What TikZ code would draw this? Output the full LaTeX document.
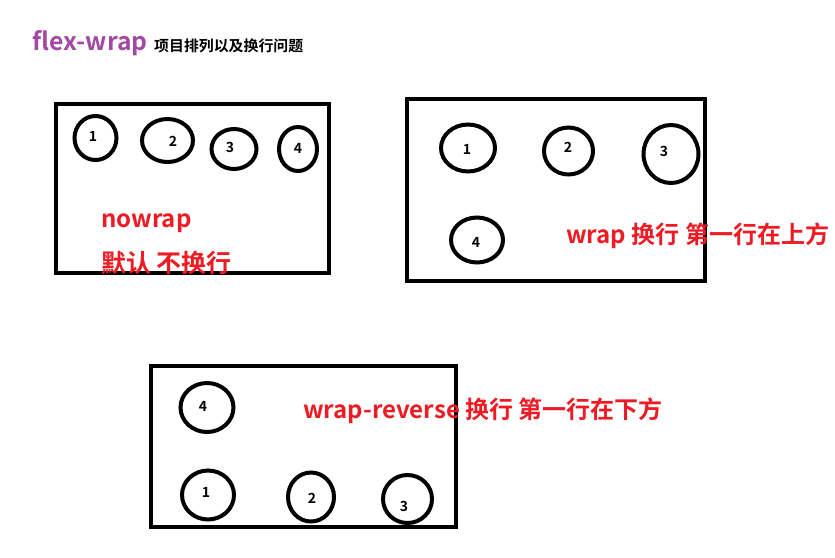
\documentclass[tikz,border=0pt]{standalone}
\usepackage{fontspec}
\usetikzlibrary{shapes.geometric}
\newfontfamily\cjk{Noto Sans CJK SC}[BoldFont={Noto Sans CJK SC Bold}]
\definecolor{pred}{RGB}{237,28,36}
\definecolor{ppurple}{RGB}{163,73,164}
\tikzset{
  frame/.style={draw=black,line width=4.5pt},
  item/.style={ellipse,draw=black,line width=4pt,inner sep=0pt},
  num/.style={font=\cjk\bfseries\fontsize{14}{14}\selectfont,text=black,inner sep=0pt},
  note/.style={font=\cjk\bfseries\fontsize{24}{24}\selectfont,text=pred,inner sep=0pt,anchor=west},
}
\begin{document}
\begin{tikzpicture}[x=1pt,y=-1pt]
\useasboundingbox[fill=white] (0,0) rectangle (835,557);
% title
\node[anchor=west,inner sep=0pt,font=\cjk\bfseries\fontsize{24.7}{24.7}\selectfont,text=ppurple] (title) at (32,43) {flex-wrap};
\node[anchor=west,inner sep=0pt,font=\cjk\bfseries\fontsize{14.9}{14.9}\selectfont] (subtitle) at (154,46) {项目排列以及换行问题};
% box 1: nowrap
\draw[frame] (56,104) rectangle (329,273);
\node[item,minimum width=42pt,minimum height=44pt] (a1) at (95.5,138) {};
\node[item,minimum width=51pt,minimum height=43pt] (a2) at (167.5,140.5) {};
\node[item,minimum width=45pt,minimum height=40pt] (a3) at (234,149) {};
\node[item,minimum width=38pt,minimum height=44pt] (a4) at (298,149) {};
\node[num] (a1t) at (93,136) {1};
\node[num] (a2t) at (173,141) {2};
\node[num] (a3t) at (230,147) {3};
\node[num] (a4t) at (298,148) {4};
\node[note] (na) at (101,223) {nowrap};
\node[note,font=\cjk\bfseries\fontsize{25}{25}\selectfont] (nb) at (101,263) {默认 不换行};
% box 2: wrap
\draw[frame] (407,99) rectangle (705,281);
\node[item,minimum width=54pt,minimum height=47pt] (b1) at (468,148) {};
\node[item,minimum width=49pt,minimum height=47pt] (b2) at (568.5,151) {};
\node[item,minimum width=55pt,minimum height=58pt] (b3) at (671,154) {};
\node[item,minimum width=52pt,minimum height=45pt] (b4) at (477,240) {};
\node[num] (b1t) at (467,149) {1};
\node[num] (b2t) at (568,147) {2};
\node[num] (b3t) at (664,151) {3};
\node[num] (b4t) at (476,242) {4};
\node[note] (nc) at (566,236) {wrap 换行 第一行在上方};
% box 3: wrap-reverse
\draw[frame] (151,366) rectangle (456,527);
\node[item,minimum width=53pt,minimum height=49pt] (c4) at (207,407.5) {};
\node[item,minimum width=52pt,minimum height=49pt] (c1) at (208,495) {};
\node[item,minimum width=46pt,minimum height=49pt] (c2) at (311,497) {};
\node[item,minimum width=49pt,minimum height=48pt] (c3) at (407.5,499) {};
\node[num] (c4t) at (203,406) {4};
\node[num] (c1t) at (206,492) {1};
\node[num] (c2t) at (312,498) {2};
\node[num] (c3t) at (404,506) {3};
\node[note] (nd) at (303,411) {wrap-reverse 换行 第一行在下方};
\end{tikzpicture}
\end{document}
